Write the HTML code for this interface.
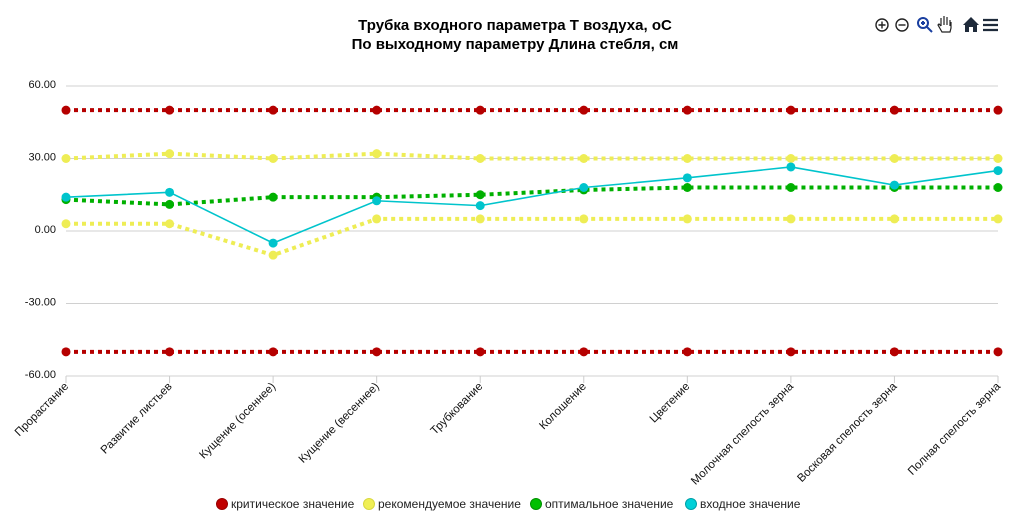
<!DOCTYPE html>
<html><head><meta charset="utf-8"><style>
body{margin:0;background:#fff;font-family:"Liberation Sans",sans-serif}
</style></head><body>
<svg id="c" width="1030" height="521" xmlns="http://www.w3.org/2000/svg" font-family="Liberation Sans, sans-serif">
<text x="515" y="30" text-anchor="middle" font-size="15" font-weight="bold">Трубка входного параметра Т воздуха, оС</text>
<text x="515" y="49" text-anchor="middle" font-size="15" font-weight="bold">По выходному параметру Длина стебля, см</text>
<g stroke="#222" fill="none" stroke-width="1.4">
<g><circle cx="882" cy="25" r="6"/><path d="M878.5 25h7M882 21.5v7"/></g>
<g><circle cx="902" cy="25" r="6"/><path d="M898.5 25h7"/></g>
<g stroke="#1a3fa0" stroke-width="2"><circle cx="923" cy="23" r="5"/><path d="M927 27l5 5M921 23h4M923 21v4"/></g>
<g stroke-width="1.2"><path d="M941 26v-8M944 25v-9M947 25v-8M950 26v-6M941 26l-2-2-1 1 4 7h8l1-4v-6"/></g>
<path d="M963 25l8-8 8 8h-2v7h-4v-5h-4v5h-4v-7z" fill="#1e2a3a" stroke="none"/>
<path d="M983 20h15M983 25h15M983 30h15" stroke="#1e2a3a" stroke-width="2.2"/>
</g>
<g id="grid"></g><g id="series"></g><g id="xl"></g>
<g font-size="12" fill="#222">
<g><circle cx="222" cy="504" r="5.5" fill="#c00000" stroke="#900" /><text x="231" y="508">критическое значение</text></g>
<g><circle cx="369" cy="504" r="5.5" fill="#f0ef55" stroke="#d8d840"/><text x="378" y="508">рекомендуемое значение</text></g>
<g><circle cx="536" cy="504" r="5.5" fill="#00c000" stroke="#009000"/><text x="545" y="508">оптимальное значение</text></g>
<g><circle cx="691" cy="504" r="5.5" fill="#00d0d8" stroke="#00a0a8"/><text x="700" y="508">входное значение</text></g>
</g>
</svg>
<script>
const categories=["Прорастание","Развитие листьев","Кущение (осеннее)","Кущение (весеннее)","Трубкование","Колошение","Цветение","Молочная спелость зерна","Восковая спелость зерна","Полная спелость зерна"];
const yTicks=[60,30,0,-30,-60];
const yTickLabels=["60.00","30.00","0.00","-30.00","-60.00"];
const criticalHigh=[50,50,50,50,50,50,50,50,50,50];
const criticalLow=[-50,-50,-50,-50,-50,-50,-50,-50,-50,-50];
const recHigh=[30,32,30,32,30,30,30,30,30,30];
const recLow=[3,3,-10,5,5,5,5,5,5,5];
const optimal=[13,11,14,14,15,17,18,18,18,18];
const inputVals=[14,16,-5,12.5,10.5,18,22,26.5,19,25];
const NS="http://www.w3.org/2000/svg";
const x0=66,x1=998,yTop=86,yBot=376;
function xs(i){return x0+i*(x1-x0)/(categories.length-1);}
function ys(v){return yTop+(60-v)*(yBot-yTop)/120;}
function mk(t,a,p){const e=document.createElementNS(NS,t);for(const k in a)e.setAttribute(k,a[k]);p.appendChild(e);return e;}
const grid=document.getElementById('grid');
yTicks.forEach((v,i)=>{
 const l=mk('line',{x1:x0,x2:x1,y1:ys(v),y2:ys(v),stroke:'#d0d0d0','stroke-width':1},grid);
 
 
 const t=mk('text',{x:56,y:ys(v)+2,'font-size':11,fill:'#111','text-anchor':'end'},grid);
 t.textContent=yTickLabels[i];
 
 
});
const xl=document.getElementById('xl');
categories.forEach((c,i)=>{
 const tk=mk('line',{x1:xs(i),x2:xs(i),y1:yBot,y2:yBot+7,stroke:'#ccc'},xl);
 
 
 const t=mk('text',{x:xs(i)+3,y:yBot+11,'font-size':11.5,fill:'#111','text-anchor':'end',transform:`rotate(-45 ${xs(i)+3} ${yBot+11})`},xl);
 t.textContent=c;
 
 
});
const S=document.getElementById('series');
function series(d,col,dash,w,name,r){
 const g=mk('g',{},S);
 
 
 mk('polyline',{points:d.map((v,i)=>xs(i)+','+ys(v)).join(' '),fill:'none',stroke:col,'stroke-width':w,'stroke-dasharray':dash},g);
 d.forEach((v,i)=>{
  const p=mk('circle',{cx:xs(i),cy:ys(v),r:r,fill:col},g);
  
  
 });
}
series(criticalHigh,'#b50000','4 4',4,'critical-high-series',4.5);
series(criticalLow,'#b50000','4 4',4,'critical-low-series',4.5);
series(recHigh,'#eeed55','4 4',4,'recommended-high-series',4.5);
series(recLow,'#eeed55','4 4',4,'recommended-low-series',4.5);
series(optimal,'#00b000','4 4',4,'optimal-series',4.5);
series(inputVals,'#00c4cc','none',1.6,'input-series',4.5);
</script>
</body></html>
